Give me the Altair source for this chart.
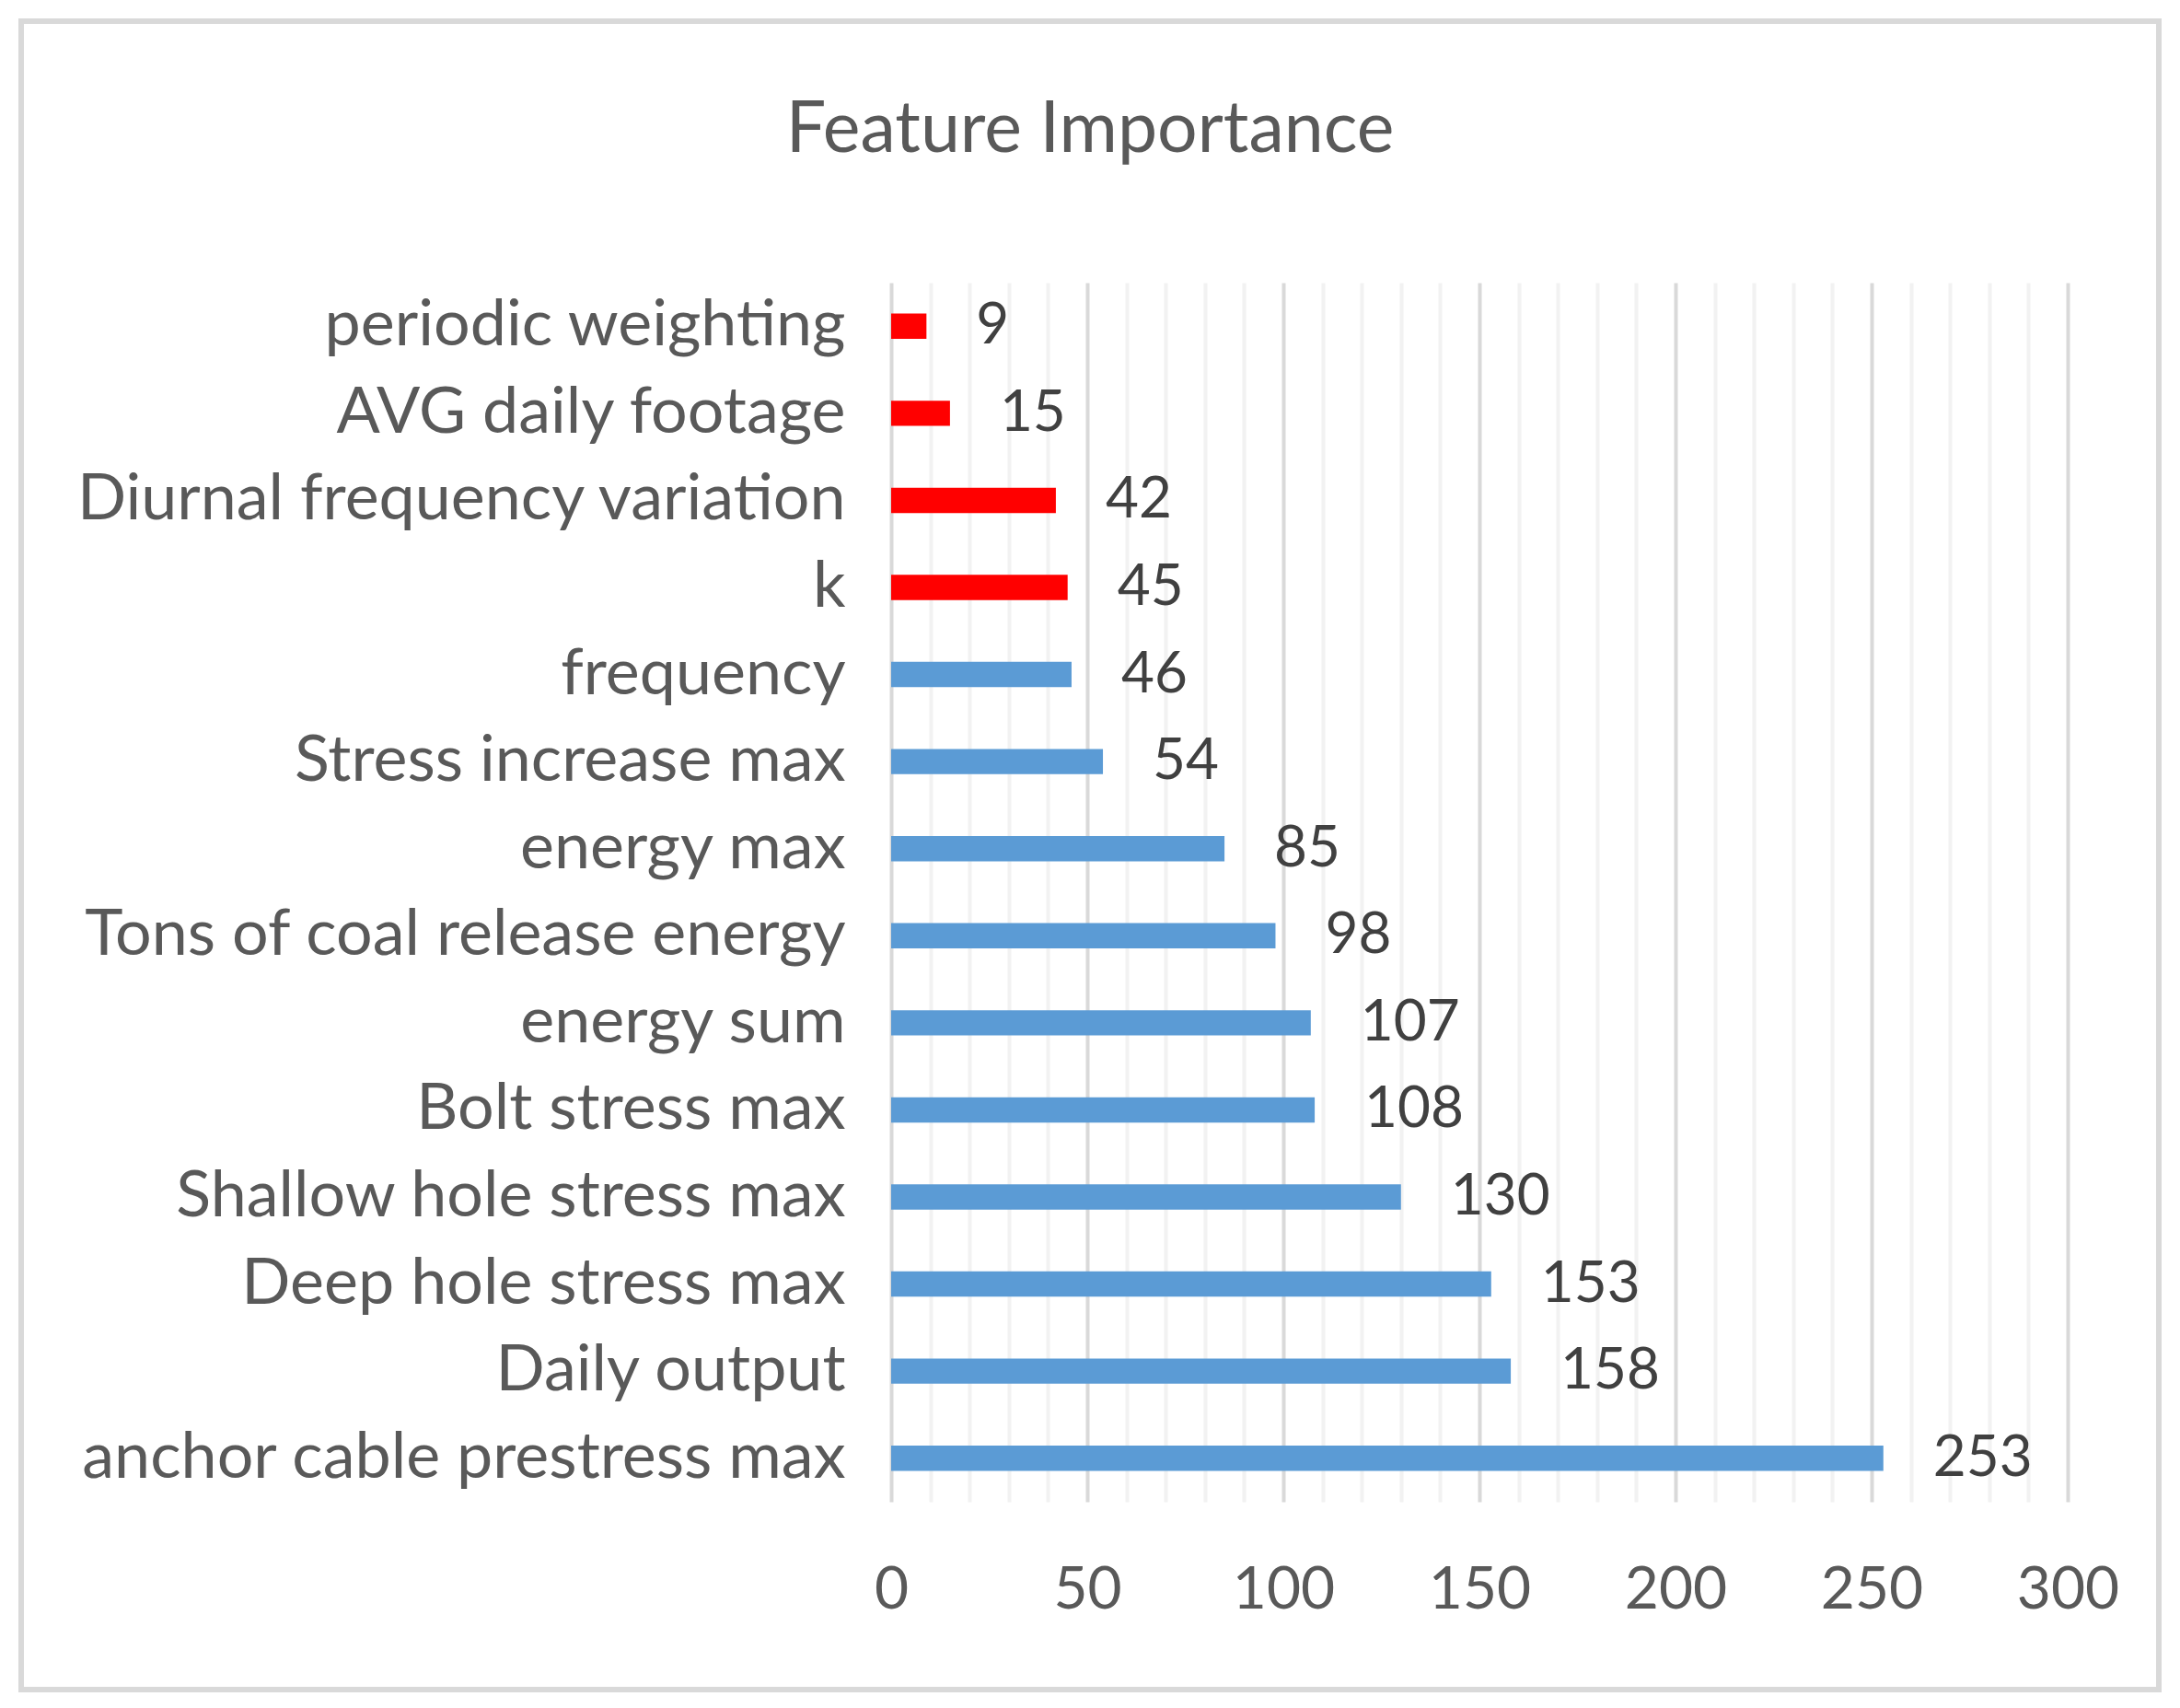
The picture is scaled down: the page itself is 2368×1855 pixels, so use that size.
import altair as alt
import pandas as pd

features = [
    "periodic weighting",
    "AVG daily footage",
    "Diurnal frequency variation",
    "k",
    "frequency",
    "Stress increase max",
    "energy max",
    "Tons of coal release energy",
    "energy sum",
    "Bolt stress max",
    "Shallow hole stress max",
    "Deep hole stress max",
    "Daily output",
    "anchor cable prestress max",
]
importance = [9, 15, 42, 45, 46, 54, 85, 98, 107, 108, 130, 153, 158, 253]
highlight = ["red", "red", "red", "red"] + ["blue"] * 10
x_ticks = list(range(0, 301, 10))

df = pd.DataFrame({"feature": features, "importance": importance, "group": highlight})

FONT = "Lato"
W, H = 1278, 1324

y_enc = alt.Y(
    "feature:N",
    sort=features,
    title=None,
    scale=alt.Scale(paddingInner=0.71, paddingOuter=0.355),
    axis=alt.Axis(
        domain=False, ticks=False, grid=False,
        labelFont=FONT, labelFontSize=70, labelColor="#595959",
        labelPadding=50, labelLimit=1200,
    ),
)
x_enc = alt.X(
    "importance:Q",
    title=None,
    scale=alt.Scale(domain=[0, 300], nice=False),
    axis=alt.Axis(
        values=x_ticks,
        domain=False, ticks=False, grid=True,
        gridColor={"condition": {"test": "datum.value % 50 === 0", "value": "#d9d9d9"}, "value": "#f2f2f2"},
        gridWidth=4,
        labelExpr="datum.value % 50 === 0 ? datum.label : ''",
        labelOverlap=False, labelFlush=False,
        labelFont=FONT, labelFontSize=64, labelColor="#595959",
        labelPadding=64,
    ),
)

bars = alt.Chart(df).mark_bar().encode(
    x=x_enc,
    y=y_enc,
    color=alt.Color(
        "group:N",
        scale=alt.Scale(domain=["red", "blue"], range=["#ff0000", "#5b9bd5"]),
        legend=None,
    ),
)

labels = alt.Chart(df).mark_text(
    align="left", baseline="middle", dx=54, font=FONT, fontSize=62, color="#404040"
).encode(
    x="importance:Q",
    y=alt.Y("feature:N", sort=features),
    text="importance:Q",
)

frame = alt.Chart(df).mark_rect(fill=None, stroke="#d9d9d9", strokeWidth=6).encode(
    x=alt.value(-945), x2=alt.value(1377), y=alt.value(-284), y2=alt.value(1528)
).transform_filter("datum.importance == 253")

chart = alt.layer(frame, bars, labels).properties(
    width=W,
    height=H,
    title=alt.TitleParams(
        "Feature Importance", font=FONT, fontSize=77, fontWeight="normal",
        color="#595959", offset=-161, frame="bounds", anchor="middle",
    ),
    autosize=alt.AutoSizeParams(type="none"),
    padding={"left": 960, "top": 299, "right": 110, "bottom": 220},
    background="white",
).configure_view(stroke=None)

chart.save("out.html", embed_options={"renderer": "svg", "actions": False})
